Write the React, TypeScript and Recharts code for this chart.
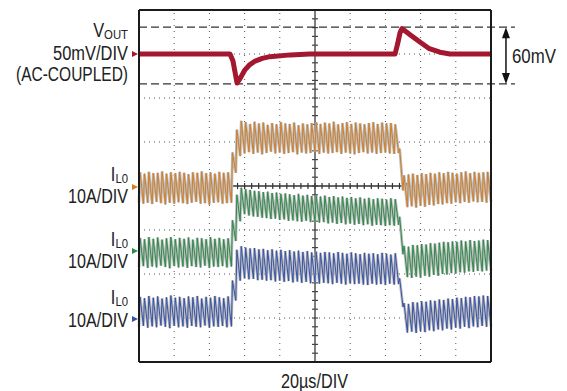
import React from 'react';
import { LineChart, Line, XAxis, YAxis, ReferenceLine } from 'recharts';

// one switching period of the inductor current, in µs
const TOOTH_US = 2.5;
const RISE_US = 0.6;

// channel zero positions, in screen divisions from the bottom
const CH_VOUT = 7;
const CH_ORANGE = 4;
const CH_GREEN = 2.5;
const CH_BLUE = 1;

// inductor currents (A, relative to the channel marker): valley at the start of each period, peak after the rise
const orangeLo = [
  -3.7, -4.0, -3.8, -4.1, -3.6, -3.9, -4.2, -3.8, -4.0, -3.7, -3.9, -4.1, -3.8, -3.6, -4.0, -3.9, -4.2, -3.8, -3.7, -4.0, -3.9, -3.8,
  3.0, 6.8,
  7.4, 7.7, 7.3, 7.6, 7.2, 7.5, 7.8, 7.4, 7.6, 7.3, 7.5, 7.7, 7.2, 7.6, 7.4, 7.5, 7.8, 7.3, 7.6, 7.4, 7.5, 7.7, 7.3, 7.6, 7.4, 7.2, 7.5, 7.7, 7.4, 7.6, 7.3, 7.5, 7.6, 7.4, 7.3, 7.5,
  -1.0, -4.8, -4.6, -4.9, -4.5, -4.7, -4.3, -4.4, -4.1, -4.2, -3.9, -4.0, -3.7, -3.9, -3.6, -3.8, -3.5, -3.7, -3.6, -3.8, -3.6,
];
const orangeHi = [
  3.1, 2.8, 3.2, 2.9, 3.0, 3.3, 2.8, 3.1, 2.9, 3.2, 3.0, 2.7, 3.1, 3.0, 3.3, 2.9, 3.1, 2.8, 3.2, 3.0, 3.1,
  7.6, 12.8,
  14.8, 14.5, 14.1, 14.6, 14.2, 14.4, 13.9, 14.3, 14.0, 14.5, 14.2, 14.1, 14.4, 13.8, 14.2, 14.0, 14.3, 14.5, 14.1, 14.4, 14.2, 14.6, 14.0, 14.3, 14.5, 14.1, 14.4, 14.2, 14.0, 14.3, 14.5, 14.1, 14.4, 14.2, 14.3, 14.0,
  8.5,
  2.4, 2.6, 2.8, 2.5, 2.9, 2.7, 3.0, 2.8, 3.1, 2.9, 3.2, 3.0, 2.8, 3.1, 3.3, 2.9, 3.2, 3.0, 3.1, 3.2,
];
const greenLo = [
  -3.4, -3.2, -3.6, -3.3, -3.5, -3.1, -3.4, -3.7, -3.2, -3.5, -3.3, -3.6, -3.2, -3.4, -3.5, -3.1, -3.6, -3.3, -3.4, -3.2, -3.5, -3.3,
  2.5, 7.0,
  8.6, 8.3, 8.1, 8.0, 7.8, 7.7, 7.5, 7.6, 7.3, 7.4, 7.1, 7.2, 7.0, 6.9, 7.1, 6.8, 6.9, 6.7, 6.8, 6.5, 6.7, 6.4, 6.6, 6.3, 6.5, 6.2, 6.4, 6.1, 6.3, 6.0, 6.2, 6.1, 5.9, 6.1, 6.0, 6.2,
  -0.5, -5.7, -5.9, -5.6, -5.8, -5.4, -5.6, -5.2, -5.4, -5.0, -5.1, -4.8, -4.9, -4.6, -4.7, -4.4, -4.5, -4.3, -4.4, -4.2, -4.3,
];
const greenHi = [
  3.2, 2.9, 3.4, 3.0, 3.3, 2.8, 3.1, 3.4, 2.9, 3.2, 3.0, 3.3, 2.8, 3.2, 3.1, 2.9, 3.4, 3.0, 3.2, 2.9, 3.1,
  7.2, 13.0,
  14.6, 14.3, 14.1, 13.9, 13.8, 13.6, 13.7, 13.4, 13.5, 13.2, 13.3, 13.1, 12.9, 13.2, 12.8, 13.0, 12.7, 12.9, 12.6, 12.8, 12.5, 12.7, 12.4, 12.6, 12.3, 12.5, 12.2, 12.4, 12.1, 12.3, 12.0, 12.2, 12.1, 11.9, 12.2, 12.0,
  8.0,
  1.4, 1.2, 1.6, 1.5, 1.8, 1.7, 2.0, 1.9, 2.1, 2.3, 2.2, 2.4, 2.3, 2.6, 2.4, 2.7, 2.5, 2.6, 2.8, 2.7,
];
const blueLo = [
  -2.0, -1.8, -2.2, -1.9, -2.1, -1.7, -2.0, -2.3, -1.8, -2.1, -1.9, -2.2, -1.8, -2.0, -2.1, -1.7, -2.2, -1.9, -2.0, -1.8, -2.1, -1.9,
  4.0, 8.5,
  9.0, 8.8, 8.9, 8.6, 8.7, 8.5, 8.6, 8.3, 8.5, 8.2, 8.4, 8.1, 8.3, 8.0, 8.2, 7.9, 8.1, 7.8, 8.0, 7.9, 7.7, 8.0, 7.8, 7.6, 7.9, 7.7, 7.8, 7.6, 7.5, 7.8, 7.6, 7.7, 7.5, 7.8, 7.6, 7.7,
  2.5, -3.3, -3.1, -3.4, -3.0, -3.2, -2.8, -3.0, -2.6, -2.8, -2.4, -2.6, -2.2, -2.4, -2.0, -2.3, -1.9, -2.1, -1.8, -2.0, -1.9,
];
const blueHi = [
  4.8, 4.5, 5.0, 4.6, 4.9, 4.4, 4.7, 5.1, 4.6, 4.8, 4.5, 4.9, 4.7, 5.0, 4.4, 4.8, 4.6, 5.0, 4.7, 4.5, 4.9,
  8.5, 15.5,
  16.3, 16.0, 15.8, 15.9, 15.6, 15.7, 15.4, 15.6, 15.3, 15.5, 15.2, 15.4, 15.1, 15.3, 15.0, 15.2, 14.9, 15.1, 14.8, 15.0, 14.9, 14.7, 15.0, 14.8, 14.6, 14.9, 14.7, 14.5, 14.8, 14.6, 14.7, 14.5, 14.8, 14.6, 14.4, 14.7,
  9.0,
  3.4, 3.2, 3.6, 3.5, 3.8, 3.7, 4.0, 3.9, 4.2, 4.1, 4.4, 4.3, 4.6, 4.5, 4.8, 4.7, 5.0, 4.9, 5.1, 5.0,
];

// output voltage, AC-coupled (mV)
const voutTimeUs = [0, 51.7, 53.4, 54.5, 55.7, 57.4, 60.2, 63, 66, 70, 74.4, 86, 97, 145.5, 147, 148.3, 149.4, 154, 160, 165, 171, 176.7, 200];
const voutMv = [0, 0, -8, -20, -33, -28, -18, -12, -8, -5, -3, -1, 0, 0, 12, 24, 29, 22, 13, 6, 2, 0, 0];

const xMajor = [20, 40, 60, 80, 120, 140, 160, 180];
const yMajor = [1, 2, 3, 5, 6, 7];
const xMinor = Array.from({ length: 49 }, (_, i) => (i + 1) * 4);
const yMinor = Array.from({ length: 39 }, (_, i) => (i + 1) * 0.2);

const rows: any[] = [];
orangeLo.forEach((_, k) => {
  rows.push({
    t: k * TOOTH_US,
    orange: CH_ORANGE + orangeLo[k] / 10,
    green: CH_GREEN + greenLo[k] / 10,
    blue: CH_BLUE + blueLo[k] / 10,
  });
  if (k < orangeHi.length) {
    rows.push({
      t: k * TOOTH_US + RISE_US,
      orange: CH_ORANGE + orangeHi[k] / 10,
      green: CH_GREEN + greenHi[k] / 10,
      blue: CH_BLUE + blueHi[k] / 10,
    });
  }
});
voutTimeUs.forEach((t, i) => rows.push({ t, vout: CH_VOUT + voutMv[i] / 50 }));
rows.sort((a, b) => a.t - b.t);

const DASH_TOP = CH_VOUT + 30.5 / 50;
const DASH_BOT = CH_VOUT - 34 / 50;

const FONT = '"Liberation Sans", Arial, sans-serif';
const INK = '#222';

const ArrowShape = (p: any) => {
  const { x1, y1, x2, y2 } = p;
  const top = Math.min(y1, y2);
  const bot = Math.max(y1, y2);
  return (
    <g>
      <line x1={x1} y1={top + 6} x2={x2} y2={bot - 6} stroke="#111" strokeWidth={1.5} />
      <polygon points={`${x1},${top} ${x1 - 4},${top + 11} ${x1 + 4},${top + 11}`} fill="#111" />
      <polygon points={`${x1},${bot} ${x1 - 4},${bot - 11} ${x1 + 4},${bot - 11}`} fill="#111" />
    </g>
  );
};

const Marker = ({ y, color }: { y: number; color: string }) => (
  <polygon points={`132,${y - 3} 138,${y} 132,${y + 3}`} fill={color} />
);

// condensed label: squeezed to the width it has in the reference
const Label = ({ x, y, w, anchor = 'end', children }: any) => (
  <text x={x} y={y} textLength={w} lengthAdjust="spacingAndGlyphs" textAnchor={anchor}
    fontFamily={FONT} fontSize={19.5} fill={INK}>{children}</text>
);

// symbol with subscript, right-aligned at x
const SubLabel = ({ x, y, main, sub }: any) => (
  <g transform={`translate(${x},${y}) scale(0.84,1)`}>
    <text x={0} y={0} textAnchor="end" fontFamily={FONT} fontSize={19.5} fill={INK}>
      {main}<tspan fontSize={13.5} dy={2}>{sub}</tspan>
    </text>
  </g>
);

export default function App() {
  return (
    <div style={{ position: 'absolute', left: 0, top: 0, width: 567, height: 391, background: '#fff' }}>
      <LineChart width={567} height={391} data={rows} margin={{ top: 10, right: 76, bottom: 29, left: 139 }}>
        <XAxis type="number" dataKey="t" domain={[0, 200]} hide />
        <YAxis type="number" domain={[0, 8]} hide />
        {xMajor.map((x) => (
          <ReferenceLine key={`gx${x}`} x={x} stroke="#555" strokeDasharray="1 5" />
        ))}
        {yMajor.map((y) => (
          <ReferenceLine key={`gy${y}`} y={y} stroke="#555" strokeDasharray="1 4" />
        ))}
        <ReferenceLine x={100} stroke="#555" strokeWidth={1.5} />
        <ReferenceLine y={4} stroke="#333" strokeWidth={1.5} />
        {xMinor.map((x) => (
          <ReferenceLine key={`mx${x}`} segment={[{ x, y: 3.93 }, { x, y: 4.07 }]} stroke="#333" strokeWidth={1.2} />
        ))}
        {yMinor.map((y) => (
          <ReferenceLine key={`my${y}`} segment={[{ x: 98.3, y }, { x: 101.7, y }]} stroke="#444" strokeWidth={1.2} />
        ))}
        <ReferenceLine segment={[{ x: 0, y: DASH_TOP }, { x: 213.6, y: DASH_TOP }]} ifOverflow="visible" stroke="#333" strokeWidth={1.3} strokeDasharray="8 4" />
        <ReferenceLine segment={[{ x: 0, y: DASH_BOT }, { x: 213.6, y: DASH_BOT }]} ifOverflow="visible" stroke="#333" strokeWidth={1.3} strokeDasharray="8 4" />
        <ReferenceLine segment={[{ x: 208.5, y: DASH_TOP }, { x: 208.5, y: DASH_BOT }]} ifOverflow="visible" shape={ArrowShape} />

        <Line dataKey="orange" stroke="#bdbdbd" strokeWidth={2.8} dot={false} connectNulls isAnimationActive={false} />
        <Line dataKey="orange" stroke="#cf7f2c" strokeWidth={1} dot={false} connectNulls isAnimationActive={false} />
        <Line dataKey="green" stroke="#bdbdbd" strokeWidth={2.8} dot={false} connectNulls isAnimationActive={false} />
        <Line dataKey="green" stroke="#2f8a4c" strokeWidth={1} dot={false} connectNulls isAnimationActive={false} />
        <Line dataKey="blue" stroke="#bdbdbd" strokeWidth={2.8} dot={false} connectNulls isAnimationActive={false} />
        <Line dataKey="blue" stroke="#3853a6" strokeWidth={1} dot={false} connectNulls isAnimationActive={false} />
        <Line dataKey="vout" stroke="#a3172f" strokeWidth={5} dot={false} connectNulls isAnimationActive={false} strokeLinejoin="round" />

        <ReferenceLine x={0} stroke="#1a1a1a" strokeWidth={2} />
        <ReferenceLine x={200} stroke="#1a1a1a" strokeWidth={2} />
        <ReferenceLine y={0} stroke="#1a1a1a" strokeWidth={2} />
        <ReferenceLine y={8} stroke="#1a1a1a" strokeWidth={2} />
      </LineChart>
      <svg width={567} height={391} style={{ position: 'absolute', left: 0, top: 0, pointerEvents: 'none' }}>
        <SubLabel x={128} y={37} main="V" sub="OUT" />
        <Label x={128} y={60} w={75}>50mV/DIV</Label>
        <Label x={128} y={81} w={112}>(AC-COUPLED)</Label>
        <SubLabel x={128} y={181} main="I" sub="L0" />
        <Label x={128} y={203} w={60}>10A/DIV</Label>
        <SubLabel x={128} y={246} main="I" sub="L0" />
        <Label x={128} y={268} w={60}>10A/DIV</Label>
        <SubLabel x={128} y={304} main="I" sub="L0" />
        <Label x={128} y={327} w={60}>10A/DIV</Label>
        <Label x={512} y={63} w={44} anchor="start">60mV</Label>
        <Label x={281} y={388} w={67} anchor="start">20µs/DIV</Label>
        <Marker y={54} color="#a3172f" />
        <Marker y={187} color="#cf7f2c" />
        <Marker y={251} color="#2f8a4c" />
        <Marker y={319} color="#3853a6" />
      </svg>
    </div>
  );
}
